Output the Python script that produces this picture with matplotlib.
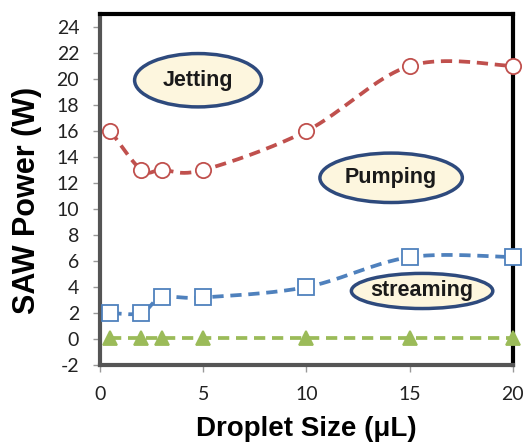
import matplotlib
matplotlib.use("Agg")
import matplotlib.pyplot as plt
import numpy as np
from matplotlib.patches import Ellipse

plt.rcParams["axes.unicode_minus"] = False

# droplet size (uL) and applied SAW power (W) for each regime
droplet_size = [0.5, 2, 3, 5, 10, 15, 20]
jetting = [16, 13, 13, 13, 16, 21, 21]
pumping = [2.0, 2.0, 3.2, 3.2, 4.0, 6.3, 6.3]
streaming = [0.1, 0.1, 0.1, 0.1, 0.1, 0.1, 0.1]

x_ticks = [0, 5, 10, 15, 20]
y_ticks = list(range(-2, 25, 2))


def smooth(x, y, n=40):
    # Catmull-Rom style bezier through the points (like a spreadsheet "smoothed line")
    p = np.column_stack([x, y]).astype(float)
    pts = np.vstack([p[0], p, p[-1]])
    out = []
    t = np.linspace(0, 1, n)[:, None]
    for i in range(1, len(pts) - 2):
        p0, p1, p2, p3 = pts[i - 1], pts[i], pts[i + 1], pts[i + 2]
        c1 = p1 + (p2 - p0) / 6
        c2 = p2 - (p3 - p1) / 6
        seg = ((1 - t) ** 3) * p1 + 3 * ((1 - t) ** 2) * t * c1 \
            + 3 * (1 - t) * t ** 2 * c2 + t ** 3 * p2
        out.append(seg if i == 1 else seg[1:])
    out = np.vstack(out)
    return out[:, 0], out[:, 1]


fig = plt.figure(figsize=(5.25, 4.48), dpi=100)
ax = fig.add_axes([0.1905, 0.185, 0.7865, 0.784])

series = [
    (jetting, "#C0504D", "o", "white", 11),
    (pumping, "#4F81BD", "s", "white", 11),
    (streaming, "#9BBB59", "^", "#9BBB59", 10),
]
for vals, col, mk, face, ms in series:
    sx, sy = smooth(droplet_size, vals)
    ax.plot(sx, sy, color=col, lw=2.7, ls=(0, (3.0, 1.8)), zorder=3,
            clip_on=False)
    ax.plot(droplet_size, vals, ls="none", marker=mk, ms=ms, mfc=face,
            mec=col, mew=1.3, zorder=4, clip_on=False)

# regime labels in ellipses
labels = [("Jetting", 4.75, 19.9, 6.15, 4.1),
          ("Pumping", 14.1, 12.4, 6.9, 3.8),
          ("streaming", 15.6, 3.7, 6.85, 2.7)]
for txt, cx, cy, w, h in labels:
    ax.add_patch(Ellipse((cx, cy), w, h, facecolor="#FDF6DE",
                         edgecolor="#2E4A7D", lw=2.5, zorder=5))
    ax.text(cx, cy, txt, ha="center", va="center", fontsize=15.5,
            fontweight="bold", family="Liberation Sans", color="#1a1a1a",
            zorder=6)

ax.set_xlim(0, 20)
ax.set_ylim(-2, 25)
ax.set_xticks(x_ticks)
ax.set_yticks(y_ticks)
for lab in ax.get_xticklabels() + ax.get_yticklabels():
    lab.set_family("Lato")
    lab.set_fontsize(14)
    lab.set_color("#222222")
ax.tick_params(axis="both", direction="out", length=5, width=1,
               color="#999999")
ax.tick_params(axis="y", pad=10)
ax.tick_params(axis="x", pad=10)

for side in ["left", "bottom"]:
    ax.spines[side].set_color("#555555")
    ax.spines[side].set_linewidth(3)
for side in ["top", "right"]:
    ax.spines[side].set_color("black")
    ax.spines[side].set_linewidth(3)

ax.set_xlabel("Droplet Size (\u03bcL)", fontsize=20, fontweight="bold",
              family="Liberation Sans")
ax.xaxis.set_label_coords(0.5, -0.145)
ax.set_ylabel("SAW Power (W)", fontsize=22, fontweight="bold",
              family="Liberation Sans")
ax.yaxis.set_label_coords(-0.14, 0.47)

fig.savefig("out.png", dpi=100)
